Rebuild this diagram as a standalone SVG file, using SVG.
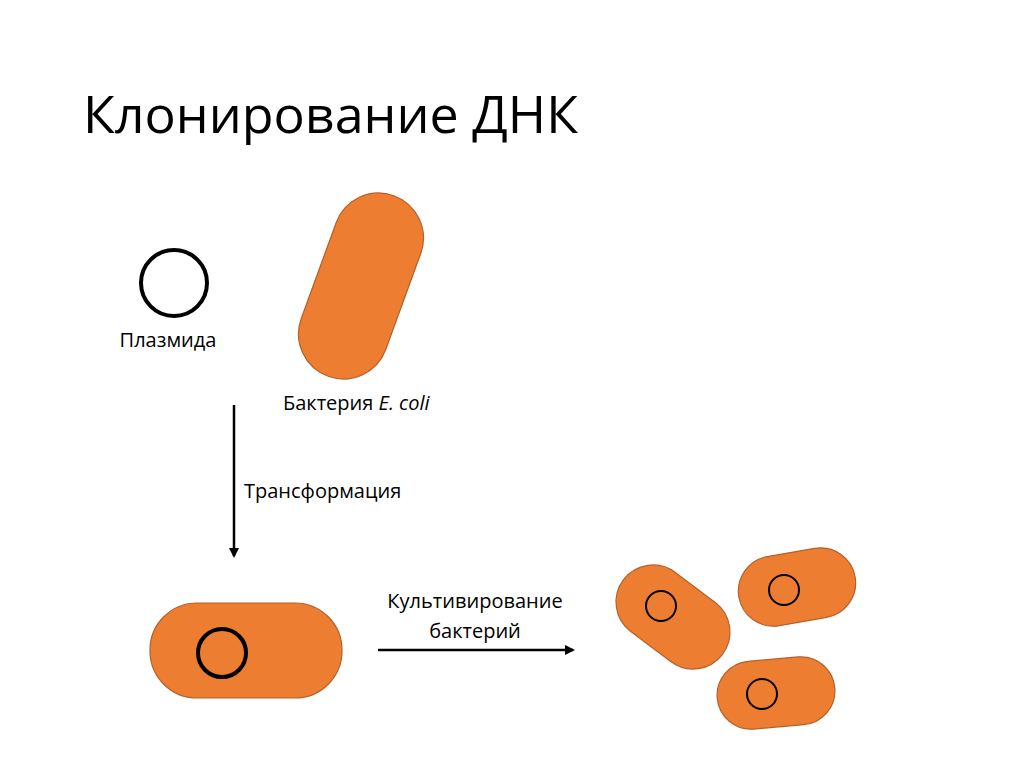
<svg xmlns="http://www.w3.org/2000/svg" width="1024" height="767" viewBox="0 0 1024 767">
<style>
.b{fill:#ED7D31;stroke:#B5602A;stroke-width:1.2}
.t{font-family:"Open Sans","Liberation Sans",sans-serif;fill:#000}
.c{fill:none;stroke:#000}
</style>
<defs><marker id="a" markerWidth="10" markerHeight="10" refX="8" refY="5" orient="auto" markerUnits="userSpaceOnUse"><path d="M0,0 L10,5 L0,10 z" fill="#000"/></marker></defs>
<rect width="1024" height="767" fill="#fff"/>
<text class="t" x="83" y="133" font-size="52">Клонирование ДНК</text>
<g id="plasmid"><circle class="c" cx="174" cy="283" r="33" stroke-width="4"/><text class="t" x="168" y="347" font-size="20" text-anchor="middle">Плазмида</text></g>
<g id="ecoli"><rect class="b" x="316" y="190" width="90" height="192" rx="45" transform="rotate(20 361 286)"/><text class="t" x="283" y="410" font-size="20">Бактерия <tspan font-style="italic">E. coli</tspan></text></g>
<g id="transformed"><rect class="b" x="150" y="603" width="192" height="95" rx="47"/><circle class="c" cx="222" cy="653" r="24" stroke-width="4"/></g>
<g id="colony">
<rect class="b" x="611" y="580" width="124" height="74" rx="37" transform="rotate(37 673 617)"/><circle class="c" cx="661" cy="606" r="15" stroke-width="2"/>
<rect class="b" x="738" y="552" width="118" height="70" rx="35" transform="rotate(-10 797 587)"/><circle class="c" cx="784" cy="590" r="15" stroke-width="2"/>
<rect class="b" x="717" y="659" width="118" height="68" rx="34" transform="rotate(-5 776 693)"/><circle class="c" cx="762" cy="694" r="15" stroke-width="2"/>
</g>
<g id="connectors">
<line x1="234" y1="405" x2="234" y2="556" stroke="#000" stroke-width="2.5" marker-end="url(#a)"/>
<text class="t" x="244" y="498" font-size="20">Трансформация</text>
<line x1="378" y1="650" x2="573" y2="650" stroke="#000" stroke-width="2.5" marker-end="url(#a)"/>
<text class="t" x="475" y="608" font-size="20" text-anchor="middle">Культивирование</text>
<text class="t" x="475" y="638" font-size="20" text-anchor="middle">бактерий</text>
</g>
</svg>
